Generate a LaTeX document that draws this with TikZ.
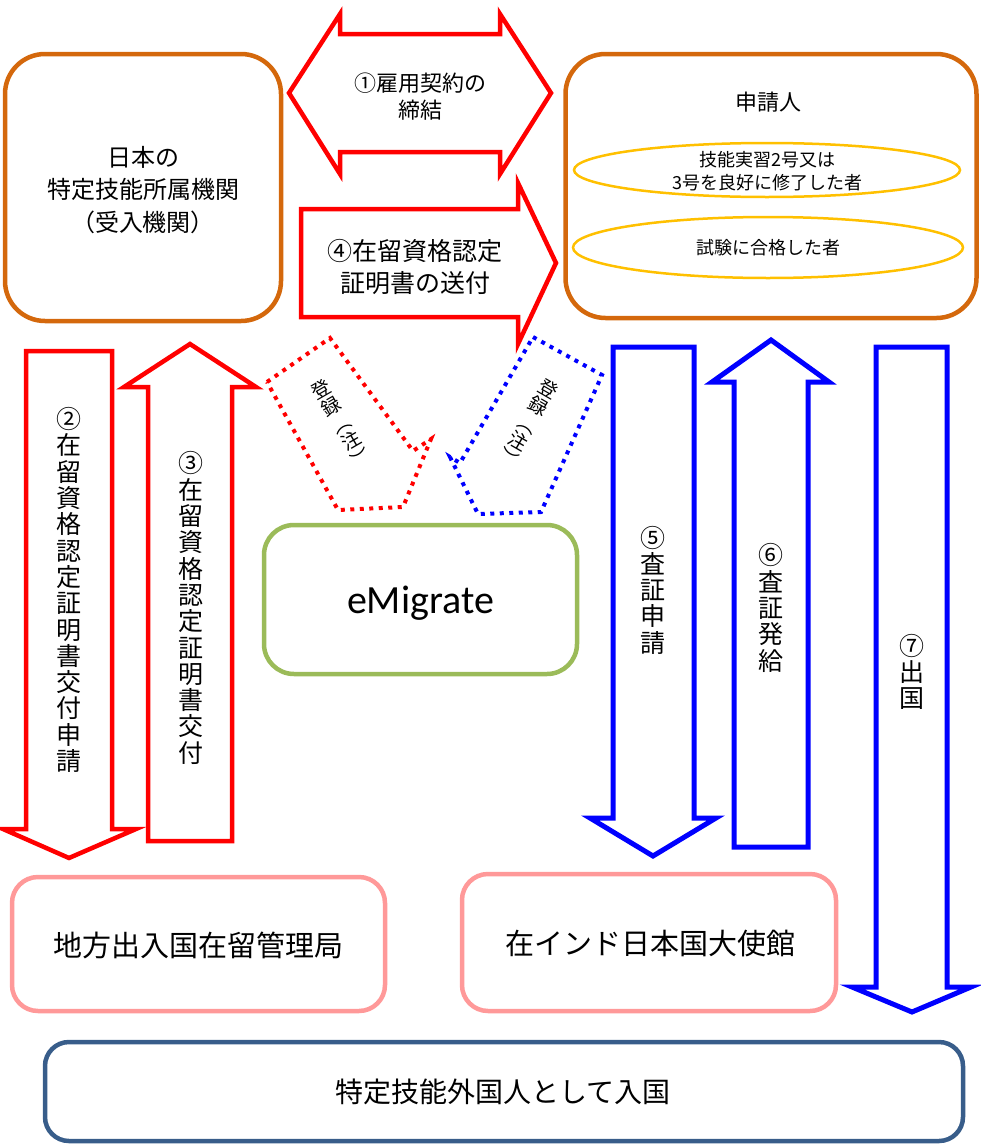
\documentclass[tikz,border=0pt]{standalone}
\usepackage{fontspec}
\usetikzlibrary{shapes.geometric}
\setmainfont{Noto Sans CJK JP}
\newfontfamily\latinfont{Carlito}
\definecolor{orgbrown}{RGB}{212,104,12}
\definecolor{ellyellow}{RGB}{255,192,0}
\definecolor{emgreen}{RGB}{155,187,89}
\definecolor{officepink}{RGB}{255,153,153}
\definecolor{darkblue}{RGB}{56,93,138}
\begin{document}
\begin{tikzpicture}[x=1pt,y=-1pt,
  orgbox/.style={draw=orgbrown, line width=4.5pt, rounded corners=40pt, inner sep=0pt},
  ellbox/.style={draw=ellyellow, line width=2.5pt, ellipse, inner sep=0pt},
  greenbox/.style={draw=emgreen, line width=4.5pt, rounded corners=30pt, inner sep=0pt},
  pinkbox/.style={draw=officepink, line width=4.5pt, rounded corners=26pt, inner sep=0pt},
  navybox/.style={draw=darkblue, line width=4.5pt, rounded corners=24pt, inner sep=0pt},
  redblock/.style={draw=red, line width=4.5pt, line join=miter},
  blueblock/.style={draw=blue, line width=5pt, line join=miter},
  reddots/.style={draw=red, line width=4pt, dash pattern=on 4pt off 5.5pt},
  bluedots/.style={draw=blue, line width=4pt, dash pattern=on 4pt off 5.5pt},
  vlabel/.style={align=center, inner sep=0pt, font=\fontsize{25}{26.3}\selectfont},
  reglabel/.style={align=center, inner sep=0pt, font=\fontsize{19}{20}\selectfont},
]
\useasboundingbox (0,0) rectangle (981,1146);

% main boxes
\node[orgbox, minimum width=276pt, minimum height=267pt] (org) at (143,187.5) {};
\node[align=center, font=\fontsize{24}{32.5}\selectfont, inner sep=0pt] (orgtext) at (143,190)
  {日本の\\特定技能所属機関\\（受入機関）};

\node[orgbox, minimum width=411pt, minimum height=264pt] (app) at (771,186) {};
\node[font=\fontsize{22}{26}\selectfont, inner sep=0pt] (apptitle) at (768,102) {申請人};
\node[ellbox, minimum width=386pt, minimum height=54pt] (ell1) at (767,170) {};
\node[align=center, font=\fontsize{18}{23}\selectfont, inner sep=0pt] (ell1text) at (767,171)
  {技能実習2号又は\\3号を良好に修了した者};
\node[ellbox, minimum width=390pt, minimum height=61pt] (ell2) at (768,247.5) {};
\node[font=\fontsize{18}{23}\selectfont, inner sep=0pt] (ell2text) at (768,248) {試験に合格した者};

\node[greenbox, minimum width=313pt, minimum height=149pt] (emig) at (420.5,599.5) {};
\node[font=\latinfont\fontsize{40}{44}\selectfont, inner sep=0pt] (emigtext) at (420.5,603) {eMigrate};

\node[pinkbox, minimum width=373pt, minimum height=134pt] (immig) at (198.5,944) {};
\node[font=\fontsize{29}{32}\selectfont, inner sep=0pt] (immigtext) at (198,945) {地方出入国在留管理局};
\node[pinkbox, minimum width=374pt, minimum height=137pt] (emb) at (649,942.5) {};
\node[font=\fontsize{29}{32}\selectfont, inner sep=0pt] (embtext) at (650,943) {在インド日本国大使館};

\node[navybox, minimum width=918pt, minimum height=99pt] (entry) at (504,1091.5) {};
\node[font=\fontsize{28}{32}\selectfont, inner sep=0pt] (entrytext) at (503,1092) {特定技能外国人として入国};

% (1) double arrow
\draw[redblock] (289,93) -- (340,14) -- (340,34) -- (500,34) -- (500,14) -- (551,93)
  -- (500,174) -- (500,152) -- (340,152) -- (340,174) -- cycle;
\node[align=center, font=\fontsize{22}{27}\selectfont, inner sep=0pt] (t1) at (420,97) {①雇用契約の\\締結};

% (4) right arrow
\draw[redblock] (301,209) -- (518,209) -- (518,183) -- (556,263) -- (518,344) -- (518,317)
  -- (301,317) -- cycle;
\node[align=center, font=\fontsize{25}{32}\selectfont, inner sep=0pt] (t4) at (415,267) {④在留資格認定\\証明書の送付};

% (2) down arrow
\draw[redblock] (26,351) -- (112,351) -- (112,829) -- (136,829) -- (69,858) -- (3,829)
  -- (26,829) -- cycle;
\node[vlabel] (t2) at (69,590) {②\\在\\留\\資\\格\\認\\定\\証\\明\\書\\交\\付\\申\\請};

% (3) up arrow
\draw[redblock] (148,841) -- (148,387) -- (124,387) -- (190,344) -- (256,387) -- (232,387)
  -- (232,841) -- cycle;
\node[vlabel] (t3) at (191,608) {③\\在\\留\\資\\格\\認\\定\\証\\明\\書\\交\\付};

% registration dotted arrows
\draw[reddots] (267,382) -- (330,338) -- (413,451) -- (431,439) -- (403,507) -- (338,510) -- cycle;
\node[reglabel, rotate=30] (r1) at (341,423) {登\\録\\︵\\注\\︶};
\draw[bluedots] (533,337) -- (602,375) -- (541,512) -- (478,514) -- (450,457) -- (460,463) -- cycle;
\node[reglabel, rotate=-30] (r2) at (529,423) {登\\録\\︵\\注\\︶};

% (5) down arrow
\draw[blueblock] (613,347) -- (694,347) -- (694,818) -- (716,818) -- (653,856) -- (590,818)
  -- (613,818) -- cycle;
\node[vlabel] (t5) at (653,590) {⑤\\査\\証\\申\\請};

% (6) up arrow
\draw[blueblock] (734,847) -- (734,382) -- (712,382) -- (771,340) -- (829,382) -- (808,382)
  -- (808,847) -- cycle;
\node[vlabel] (t6) at (771,608) {⑥\\査\\証\\発\\給};

% (7) down arrow
\draw[blueblock] (876,347) -- (947,347) -- (947,987) -- (971,987) -- (912,1012) -- (852,987)
  -- (876,987) -- cycle;
\node[vlabel] (t7) at (912,672) {⑦\\出\\国};
\end{tikzpicture}
\end{document}
